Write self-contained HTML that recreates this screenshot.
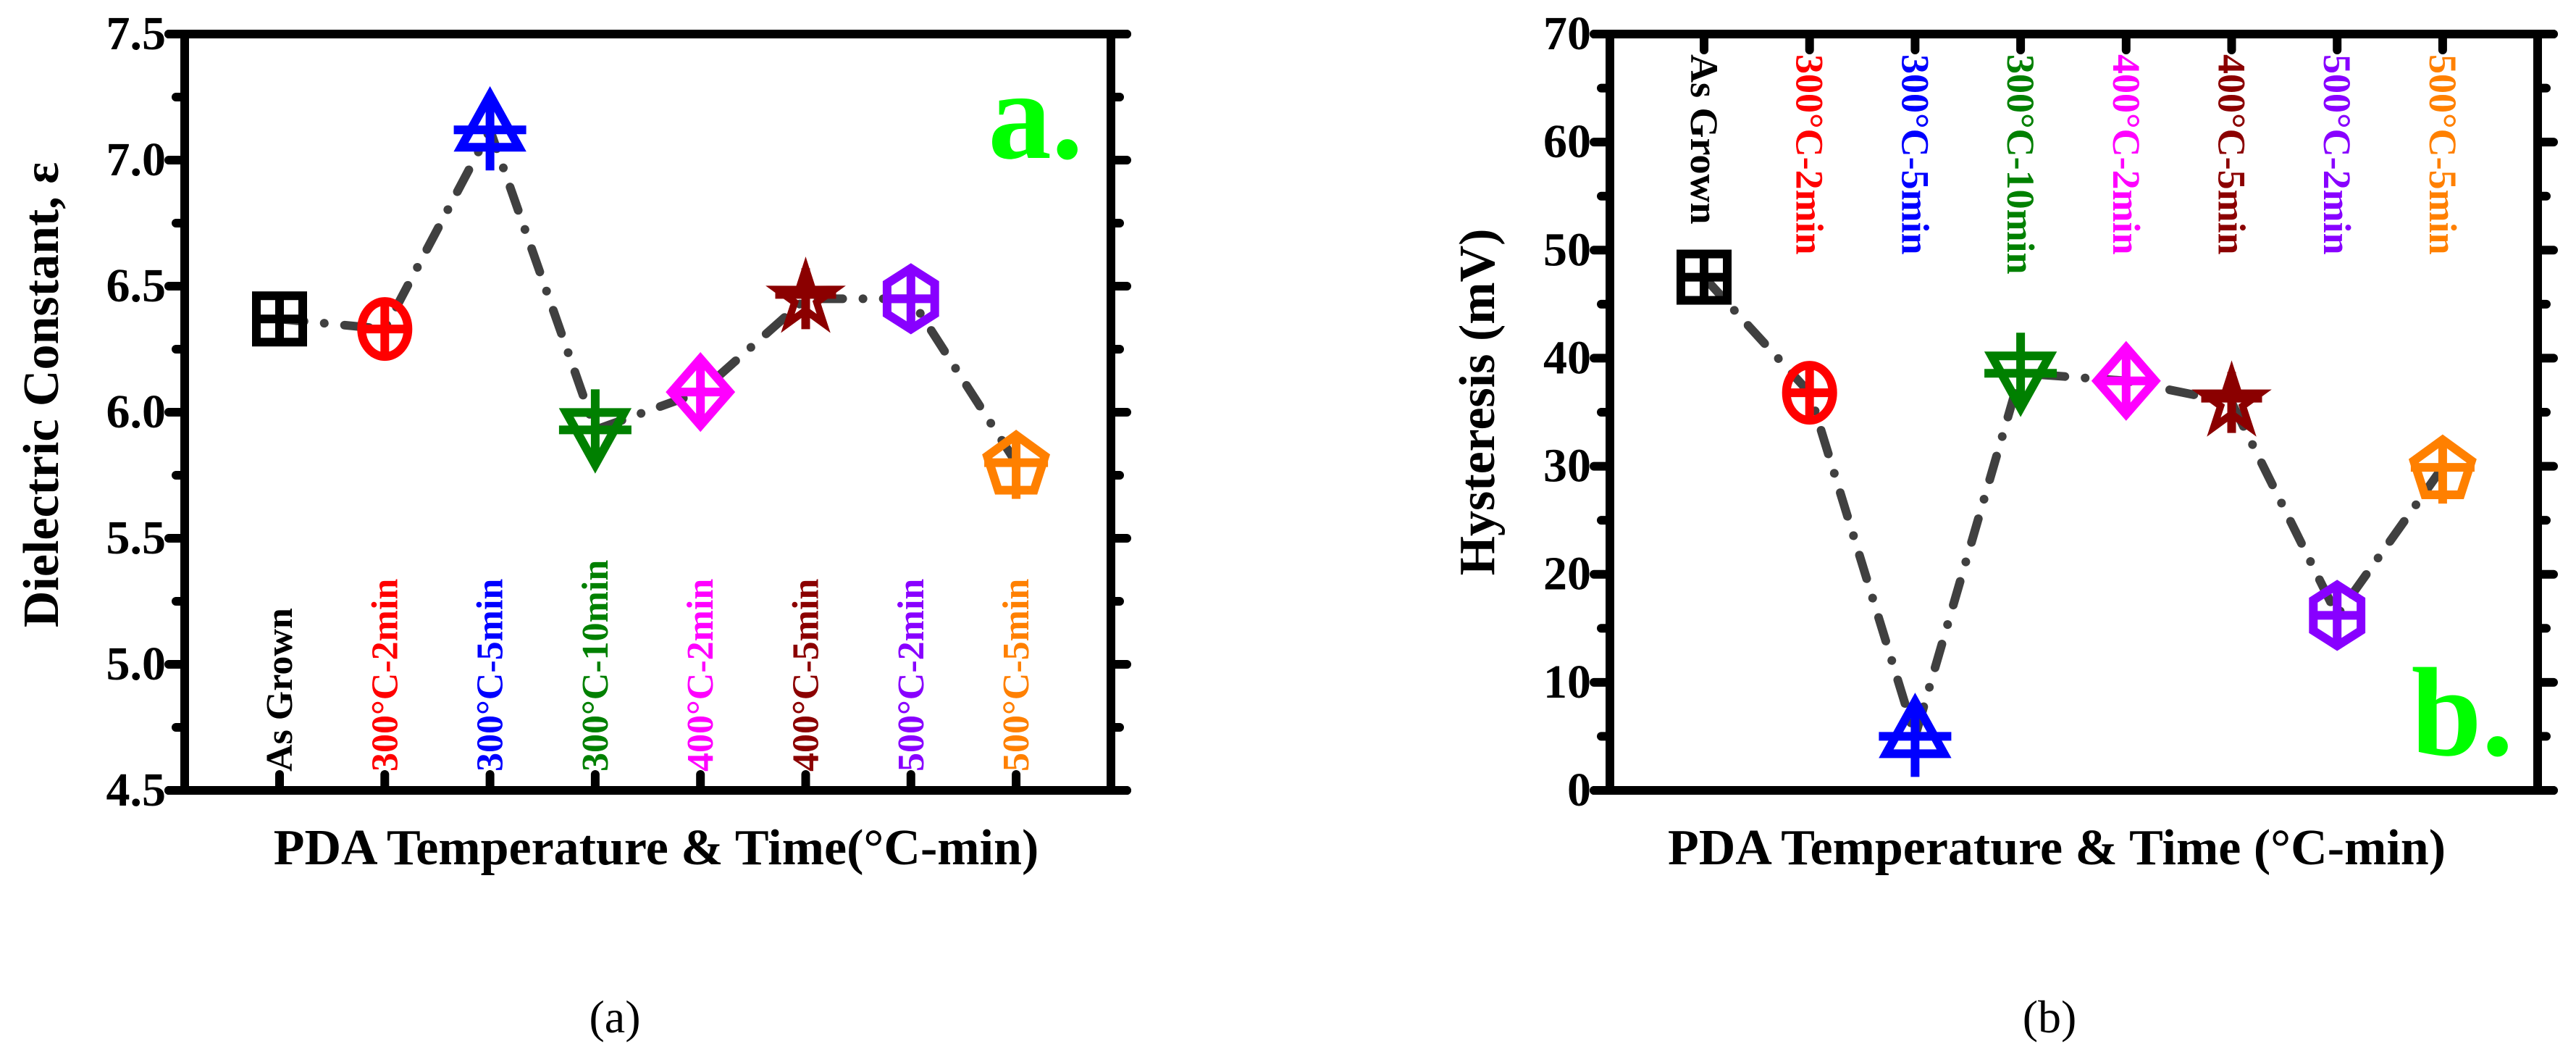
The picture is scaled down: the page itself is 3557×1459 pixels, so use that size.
<!DOCTYPE html>
<html><head><meta charset="utf-8"><style>
html,body{margin:0;padding:0;background:#fff;}
svg{display:block;}
svg text{font-family:"Liberation Serif","Times New Roman",Times,"DejaVu Serif",serif;}
</style></head><body>
<svg id="fig" width="3557" height="1459" viewBox="0 0 3557 1459" xmlns="http://www.w3.org/2000/svg"></svg>
<script>
const categories = ["As Grown","300°C-2min","300°C-5min","300°C-10min","400°C-2min","400°C-5min","500°C-2min","500°C-5min"];
const dielectricValues = [6.37, 6.33, 7.12, 5.93, 6.08, 6.45, 6.45, 5.80];
const hysteresisValues = [47.5, 36.8, 5.0, 38.6, 37.9, 35.9, 16.2, 29.9];
const dielectricTicks = [4.5, 5.0, 5.5, 6.0, 6.5, 7.0, 7.5];
const hysteresisTicks = [0, 10, 20, 30, 40, 50, 60, 70];
const colors = ["#000000","#ff0000","#0000ff","#008000","#ff00ff","#8b0000","#8800ff","#ff8000"];
const shapes = ["square","circle","up","down","diamond","star","hexagon","pentagon"];

const NS = "http://www.w3.org/2000/svg";
const FONT = "'Liberation Serif','Times New Roman',Times,'DejaVu Serif',serif";
const svg = document.getElementById("fig");
function mk(tag, attrs, parent){ const e=document.createElementNS(NS,tag); for(const k in attrs) e.setAttribute(k,attrs[k]); if(tag==="text") e.setAttribute("font-family",FONT); (parent||svg).appendChild(e); return e; }

function marker(g, shape, cx, cy, col){
  const s=38, sw=12;
  const st={fill:"none",stroke:col,"stroke-width":sw,"stroke-linejoin":"miter"};
  let pts=null;
  if(shape==="square"){ mk("rect",Object.assign({x:cx-s+6,y:cy-s+6,width:2*s-12,height:2*s-12},st),g); mk("path",Object.assign({d:`M${cx-s+6} ${cy}H${cx+s-6}M${cx} ${cy-s+6}V${cy+s-6}`},st),g); return; }
  if(shape==="circle"){ mk("ellipse",Object.assign({cx:cx,cy:cy,rx:s-6,ry:s},st),g); mk("path",Object.assign({d:`M${cx-s+6} ${cy}H${cx+s-6}M${cx} ${cy-s}V${cy+s}`},st),g); return; }
  if(shape==="up"){ pts=`${cx},${cy-48} ${cx+40},${cy+24} ${cx-40},${cy+24}`; mk("polygon",Object.assign({points:pts},st),g); mk("path",Object.assign({d:`M${cx-50} ${cy}H${cx+50}M${cx} ${cy-48}V${cy+56}`},st),g); return; }
  if(shape==="down"){ pts=`${cx-40},${cy-24} ${cx+40},${cy-24} ${cx},${cy+48}`; mk("polygon",Object.assign({points:pts},st),g); mk("path",Object.assign({d:`M${cx-50} ${cy}H${cx+50}M${cx} ${cy-56}V${cy+48}`},st),g); return; }
  if(shape==="diamond"){ pts=`${cx},${cy-46} ${cx+40},${cy} ${cx},${cy+46} ${cx-40},${cy}`; mk("polygon",Object.assign({points:pts},st),g); mk("path",Object.assign({d:`M${cx-40} ${cy}H${cx+40}M${cx} ${cy-46}V${cy+46}`},st),g); return; }
  if(shape==="star"){ let p=[]; for(let i=0;i<10;i++){const a=-Math.PI/2+i*Math.PI/5; const r=i%2?16:42; p.push((cx+r*Math.cos(a)).toFixed(1)+","+(cy+r*Math.sin(a)).toFixed(1));} mk("polygon",Object.assign({points:p.join(" ")},st,{"stroke-width":10}),g); mk("path",Object.assign({d:`M${cx-42} ${cy-6}H${cx+42}M${cx} ${cy-42}V${cy+42}`},st),g); return; }
  if(shape==="hexagon"){ let p=[]; for(let i=0;i<6;i++){const a=-Math.PI/2+i*Math.PI/3; p.push((cx+38*Math.cos(a)).toFixed(1)+","+(cy+42*Math.sin(a)).toFixed(1));} mk("polygon",Object.assign({points:p.join(" ")},st),g); mk("path",Object.assign({d:`M${cx-38} ${cy}H${cx+38}M${cx} ${cy-42}V${cy+42}`},st),g); return; }
  if(shape==="pentagon"){ let p=[]; for(let i=0;i<5;i++){const a=-Math.PI/2+i*2*Math.PI/5; p.push((cx+42*Math.cos(a)).toFixed(1)+","+(cy+4+42*Math.sin(a)).toFixed(1));} mk("polygon",Object.assign({points:p.join(" ")},st),g); mk("path",Object.assign({d:`M${cx-44} ${cy}H${cx+44}M${cx} ${cy-38}V${cy+50}`},st),g); return; }
}

function panel(opt){
  const {L,R,T,B,x0,dx,ymin,ymax,ticks,vals,fmt,minorStep,labelsTop,name} = opt;
  const g = mk("g",{});
  
  
  const xs = i => x0 + i*dx;
  const ys = v => B - (v-ymin)/(ymax-ymin)*(B-T);
  const frame = mk("path",{d:`M${L-22} ${T}H${R+22}M${R} ${T}V${B}M${L} ${T}V${B}M${L-22} ${B}H${R+22}`,fill:"none",stroke:"#000","stroke-width":12,"stroke-linecap":"round"},g);
  
  
  for(let v=ymin; v<=ymax+1e-9; v+=minorStep){
    const y=ys(v); const major = ticks.some(t=>Math.abs(t-v)<1e-6);
    const len = major?22:12;
    mk("path",{d:`M${L-len} ${y}H${L}M${R} ${y}H${R+len}`,stroke:"#000","stroke-width":12,"stroke-linecap":"round"},g);
  }
  ticks.forEach(t=>{
    const tx = mk("text",{x:L-26,y:ys(t)+21,"text-anchor":"end","font-size":66,"font-weight":"bold",fill:"#000"},g);
    tx.textContent = fmt(t);
    
    
  });
  categories.forEach((c,i)=>{
    const x=xs(i);
    if(labelsTop){
      mk("path",{d:`M${x} ${T} V${T+22}`,stroke:"#000","stroke-width":12,"stroke-linecap":"round"},g);
      const t = mk("text",{x:0,y:0,transform:`translate(${x-18},${T+28}) rotate(90)`,"font-size":54,"font-weight":"bold",fill:colors[i]},g);
      t.textContent=c;
      
      
    } else {
      mk("path",{d:`M${x} ${B} V${B-22}`,stroke:"#000","stroke-width":12,"stroke-linecap":"round"},g);
      const t = mk("text",{x:0,y:0,transform:`translate(${x+17},${B-26}) rotate(-90)`,"font-size":52,"font-weight":"bold",fill:colors[i]},g);
      t.textContent=c;
      
      
    }
  });
  const d = vals.map((v,i)=>(i?"L":"M")+xs(i)+" "+ys(v)).join(" ");
  const line = mk("path",{d:d,fill:"none",stroke:"#404040","stroke-width":12,"stroke-linecap":"round","stroke-dasharray":"34 28 0.1 28"},g);
  
  
  vals.forEach((v,i)=>{
    const mg = mk("g",{},g);
    
    
    marker(mg, shapes[i], xs(i), ys(v), colors[i]);
  });
}

panel({name:"dielectric-chart",L:255,R:1534,T:47,B:1091,x0:386,dx:145.3,ymin:4.5,ymax:7.5,ticks:dielectricTicks,vals:dielectricValues,fmt:v=>v.toFixed(1),minorStep:0.25,labelsTop:false});
panel({name:"hysteresis-chart",L:2223,R:3504,T:47,B:1091,x0:2353,dx:145.7,ymin:0,ymax:70,ticks:hysteresisTicks,vals:hysteresisValues,fmt:v=>String(v),minorStep:5,labelsTop:true});
</script>
<svg style="position:absolute;left:0;top:0" width="3557" height="1459" xmlns="http://www.w3.org/2000/svg">
<text font-family="'Liberation Serif','Times New Roman',Times,serif" transform="translate(80,545) rotate(-90)" text-anchor="middle" font-size="70" font-weight="bold">Dielectric Constant, ε</text>
<text font-family="'Liberation Serif','Times New Roman',Times,serif" x="906" y="1193" text-anchor="middle" font-size="70" font-weight="bold">PDA Temperature &amp; Time(°C-min)</text>
<text font-family="'Liberation Serif','Times New Roman',Times,serif" x="1430" y="218" text-anchor="middle" font-size="175" font-weight="bold" fill="#00ff00">a.</text>
<text font-family="'Liberation Serif','Times New Roman',Times,serif" x="849" y="1425" text-anchor="middle" font-size="64">(a)</text>
<text font-family="'Liberation Serif','Times New Roman',Times,serif" transform="translate(2063,555) rotate(-90)" text-anchor="middle" font-size="70" font-weight="bold">Hysteresis (mV)</text>
<text font-family="'Liberation Serif','Times New Roman',Times,serif" x="2840" y="1193" text-anchor="middle" font-size="70" font-weight="bold">PDA Temperature &amp; Time (°C-min)</text>
<text font-family="'Liberation Serif','Times New Roman',Times,serif" x="3400" y="1042" text-anchor="middle" font-size="175" font-weight="bold" fill="#00ff00">b.</text>
<text font-family="'Liberation Serif','Times New Roman',Times,serif" x="2830" y="1425" text-anchor="middle" font-size="64">(b)</text>
</svg>
</body></html>
